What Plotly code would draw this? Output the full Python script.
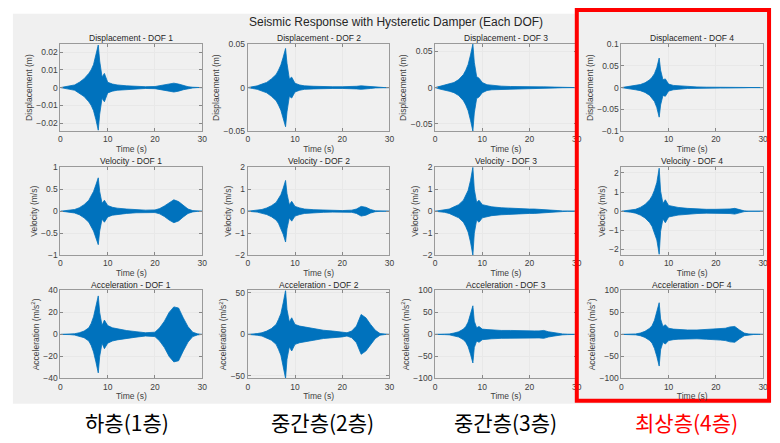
import plotly.graph_objects as go

# ---------------- data (envelopes of the response) ----------------
t = [0, 1, 2, 3, 4, 5, 6, 6.5, 7, 7.5, 8, 8.3, 8.8, 9.3, 10, 11, 12, 14, 16, 18,
     20, 21, 22, 23, 24, 25, 26, 27, 28, 29, 30]

disp1 = [0, 0.0005, 0.001, 0.0015, 0.003, 0.005, 0.008, 0.010, 0.013, 0.018, 0.024, 0.015, 0.006, 0.008, 0.003,
         0.002, 0.0015, 0.001, 0.0007, 0.0005, 0.0006, 0.001, 0.0015, 0.002, 0.0025, 0.002, 0.0012, 0.0005, 0.0002, 0, 0]
disp2 = [0, 0.001, 0.002, 0.004, 0.006, 0.010, 0.015, 0.020, 0.026, 0.035, 0.045, 0.028, 0.010, 0.012, 0.005,
         0.003, 0.002, 0.0015, 0.001, 0.001, 0.001, 0.001, 0.0012, 0.0015, 0.002, 0.0015, 0.001, 0.0004, 0.0001, 0, 0]
disp3 = [0, 0.002, 0.004, 0.005, 0.007, 0.011, 0.018, 0.024, 0.032, 0.045, 0.060, 0.035, 0.015, 0.013, 0.007,
         0.004, 0.003, 0.002, 0.0015, 0.001, 0.001, 0.001, 0.001, 0.001, 0.0008, 0.0006, 0.0004, 0.0002, 0.0001, 0, 0]
disp4 = [0, 0.002, 0.003, 0.005, 0.007, 0.011, 0.018, 0.024, 0.032, 0.046, 0.068, 0.040, 0.018, 0.020, 0.008,
         0.005, 0.004, 0.002, 0.0015, 0.001, 0.001, 0.001, 0.001, 0.0012, 0.0015, 0.001, 0.0005, 0.0002, 0, 0, 0]

vel1 = [0, 0.01, 0.02, 0.04, 0.08, 0.15, 0.25, 0.35, 0.45, 0.60, 0.76, 0.45, 0.18, 0.25, 0.13,
        0.09, 0.07, 0.05, 0.035, 0.025, 0.03, 0.06, 0.12, 0.20, 0.26, 0.22, 0.13, 0.05, 0.015, 0.003, 0]
vel2 = [0, 0.02, 0.04, 0.08, 0.15, 0.25, 0.40, 0.55, 0.75, 1.05, 1.40, 0.80, 0.30, 0.45, 0.22,
        0.15, 0.10, 0.07, 0.05, 0.04, 0.03, 0.04, 0.05, 0.10, 0.22, 0.18, 0.08, 0.02, 0.005, 0, 0]
vel3 = [0, 0.03, 0.05, 0.10, 0.20, 0.30, 0.50, 0.70, 0.95, 1.40, 2.00, 1.00, 0.40, 0.50, 0.30,
        0.25, 0.20, 0.16, 0.13, 0.11, 0.10, 0.10, 0.09, 0.09, 0.07, 0.05, 0.03, 0.015, 0.005, 0, 0]
vel4 = [0, 0.03, 0.05, 0.10, 0.20, 0.35, 0.60, 0.80, 1.10, 1.50, 2.25, 1.05, 0.40, 0.60, 0.30,
        0.25, 0.20, 0.15, 0.12, 0.10, 0.10, 0.10, 0.11, 0.12, 0.15, 0.08, 0.02, 0.005, 0, 0, 0]

acc1 = [0, 0, 0.2, 0.6, 1.5, 3, 6, 10, 16, 25, 35, 20, 8, 13, 8,
        6, 5, 3.5, 2.5, 1.5, 2, 6, 12, 20, 25, 24, 15, 7, 2, 0.5, 0]
acc2 = [0, 0.3, 1, 2, 4, 7, 12, 18, 25, 38, 53, 30, 15, 20, 12,
        10, 9, 7, 5, 4, 3, 2, 4, 10, 24, 20, 12, 5, 1, 0.2, 0]
acc3 = [0, 0, 0.5, 1, 3, 6, 12, 18, 28, 45, 65, 30, 15, 18, 12,
        11, 10, 9, 9, 8, 8, 8, 8, 9, 6, 4, 2, 1, 0.5, 0.2, 0]
acc4 = [0, 0, 0.5, 1, 3, 7, 14, 20, 32, 50, 72, 35, 18, 22, 14,
        12, 11, 10, 10, 11, 12, 13, 14, 17, 18, 10, 3, 1, 0.2, 0, 0]

series = [[disp1, disp2, disp3, disp4],
          [vel1, vel2, vel3, vel4],
          [acc1, acc2, acc3, acc4]]

row_names = ["Displacement", "Velocity", "Acceleration"]
y_titles = ["Displacement (m)", "Velocity (m/s)", "Acceleration (m/s<sup>2</sup>)"]
y_ranges = [[0.0245, 0.05, 0.06, 0.1],
            [1, 2, 2, 2.3],
            [40, 53, 100, 100]]
y_ticks = [[[-0.02, -0.01, 0, 0.01, 0.02], [-0.05, 0, 0.05], [-0.05, 0, 0.05], [-0.1, -0.05, 0, 0.05, 0.1]],
           [[-1, -0.5, 0, 0.5, 1], [-2, -1, 0, 1, 2], [-2, -1, 0, 1, 2], [-2, -1, 0, 1, 2]],
           [[-40, -20, 0, 20, 40], [-50, 0, 50], [-100, -50, 0, 50, 100], [-100, -50, 0, 50, 100]]]
x_ticks = [0, 10, 20, 30]
main_title = "Seismic Response with Hysteretic Damper (Each DOF)"
floor_labels = ["하층(1층)", "중간층(2층)", "중간층(3층)", "최상층(4층)"]

# ---------------- layout geometry (pixels) ----------------
W, H = 780, 443
col_x0 = [59, 248, 437, 625]
col_w = 143
row_top = [40, 166, 292]
row_bot = [129, 256, 382]
label_x = [126, 323, 508, 691]

def px(x):
    return x / W

def py(y):
    return 1 - y / H

BLUE = "#0072BD"
FONT = "Liberation Sans, Arial, sans-serif"

fig = go.Figure()
layout = dict(
    width=W, height=H,
    margin=dict(l=0, r=0, t=0, b=0),
    paper_bgcolor="white",
    plot_bgcolor="white",
    showlegend=False,
    font=dict(family=FONT, size=8, color="#404040"),
)
annotations = []
shapes = [
    dict(type="rect", xref="paper", yref="paper", x0=px(11), x1=px(775), y0=py(408), y1=py(9),
         fillcolor="#f0f0f0", line=dict(width=0), layer="below"),
    dict(type="rect", xref="paper", yref="paper", x0=px(580), x1=px(775), y0=py(406), y1=py(5),
         fillcolor="#f0f0f0", line=dict(width=0), layer="below"),
]

for r in range(3):
    for c in range(4):
        i = r * 4 + c + 1
        env = series[r][c]
        xs = t + t[::-1]
        ys = env + [-v for v in env[::-1]]
        fig.add_trace(go.Scatter(
            x=xs, y=ys, mode="lines", fill="toself",
            fillcolor=BLUE, line=dict(color=BLUE, width=0.8),
            xaxis=f"x{i}", yaxis=f"y{i}", hoverinfo="skip"))
        ax = dict(
            domain=[px(col_x0[c]), px(col_x0[c] + col_w)],
            range=[0, 30], tickvals=x_ticks, ticks="inside", ticklen=3,
            tickcolor="#888", showline=True, linecolor="#9a9a9a", linewidth=1, mirror="ticks",
            showgrid=True, gridcolor="#e8e8e8", gridwidth=1, zeroline=False,
            tickfont=dict(size=8.5, color="#404040"),
            title=dict(text="Time (s)", font=dict(size=8.5, color="#404040"), standoff=2),
            anchor=f"y{i}",
        )
        ay = dict(
            domain=[py(row_bot[r]), py(row_top[r])],
            range=[-y_ranges[r][c], y_ranges[r][c]], tickvals=y_ticks[r][c],
            ticks="inside", ticklen=3, tickcolor="#888",
            showline=True, linecolor="#9a9a9a", linewidth=1, mirror="ticks",
            showgrid=True, gridcolor="#e8e8e8", gridwidth=1, zeroline=False,
            tickfont=dict(size=8.5, color="#404040"),
            title=dict(text=y_titles[r], font=dict(size=8.5, color="#404040"), standoff=2),
            anchor=f"x{i}",
        )
        layout[f"xaxis{i}"] = ax
        layout[f"yaxis{i}"] = ay
        annotations.append(dict(
            text=f"{row_names[r]} - DOF {c + 1}", xref="paper", yref="paper",
            x=px(col_x0[c] + col_w / 2), y=py(row_top[r] - 6), xanchor="center", yanchor="middle",
            showarrow=False, font=dict(size=8.5, color="#262626", family=FONT)))

annotations.append(dict(
    text=main_title, xref="paper", yref="paper", x=px(398), y=py(17),
    xanchor="center", yanchor="middle", showarrow=False,
    font=dict(size=12, color="#262626", family=FONT)))

for k, lab in enumerate(floor_labels):
    annotations.append(dict(
        text=lab, xref="paper", yref="paper", x=px(label_x[k]), y=py(427),
        xanchor="center", yanchor="middle", showarrow=False,
        font=dict(size=21, color="#ff0000" if k == 3 else "#000000", family="Noto Sans CJK KR")))

shapes.append(dict(type="rect", xref="paper", yref="paper", x0=px(580), x1=px(774), y0=py(405), y1=py(5),
                   line=dict(color="#ff0000", width=4), fillcolor="rgba(0,0,0,0)", layer="above"))

layout["annotations"] = annotations
layout["shapes"] = shapes
fig.update_layout(**layout)
fig.write_html("out.html", config={"displayModeBar": False},
               post_script="document.body.style.margin='0';document.body.style.overflow='hidden';")
